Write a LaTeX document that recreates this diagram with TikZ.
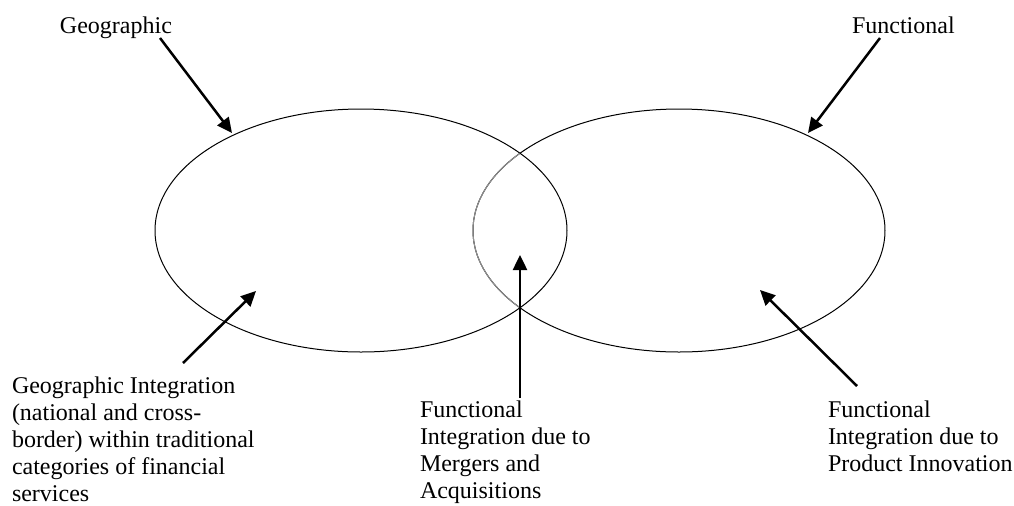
\documentclass[tikz,border=0pt]{standalone}
\usepackage{fontspec}
\setmainfont{Liberation Serif}
\usetikzlibrary{arrows.meta,shapes.geometric}
\tikzset{
  lbl/.style={inner sep=0pt, outer sep=0pt, anchor=base west, font=\fontsize{12}{13.6}\selectfont},
  oval/.style={ellipse, draw=black, line width=0.5pt, inner sep=0pt, outer sep=0pt,
               minimum width=206pt, minimum height=121.5pt},
  arr/.style={line width=1.25pt, -{Triangle[length=7.5pt,width=7pt]}},
}
\newcommand{\lines}[1]{\begin{tabular}[t]{@{}l@{}}#1\end{tabular}}
\begin{document}
\begin{tikzpicture}[x=0.5pt,y=-0.5pt]
\useasboundingbox (0,0) rectangle (1014,505);
% ellipses
\node[oval] (geo) at (361,230.5) {};
\node[oval] (fun) at (679,230.5) {};
\begin{scope}
  \clip (361,230.5) ellipse [x radius=205.5, y radius=121];
  \node[oval, draw=gray!85] (funin) at (679,230.5) {};
\end{scope}
% labels
\node[lbl] (geoLbl) at (60,33) {Geographic};
\node[lbl] (funLbl) at (852,33) {Functional};
\node[lbl] (giLbl) at (12,393) {\lines{Geographic Integration\\(national and cross-\\border) within traditional\\categories of financial\\services}};
\node[lbl] (maLbl) at (420,417) {\lines{Functional\\Integration due to\\Mergers and\\Acquisitions}};
\node[lbl] (piLbl) at (828,417) {\lines{Functional\\Integration due to\\Product Innovation}};
% arrow ends
\coordinate (a1s) at (160,38);  \coordinate (a1e) at (232,133);
\coordinate (a2s) at (880,38);  \coordinate (a2e) at (808,133);
\coordinate (a3s) at (183,363); \coordinate (a3e) at (256,291);
\coordinate (a4s) at (520,398); \coordinate (a4e) at (520,255);
\coordinate (a5s) at (857,386); \coordinate (a5e) at (760,290);
\draw[arr] (a1s) -- (a1e);
\draw[arr] (a2s) -- (a2e);
\draw[arr] (a3s) -- (a3e);
\draw[arr] (a4s) -- (a4e);
\draw[arr] (a5s) -- (a5e);
\end{tikzpicture}
\end{document}
